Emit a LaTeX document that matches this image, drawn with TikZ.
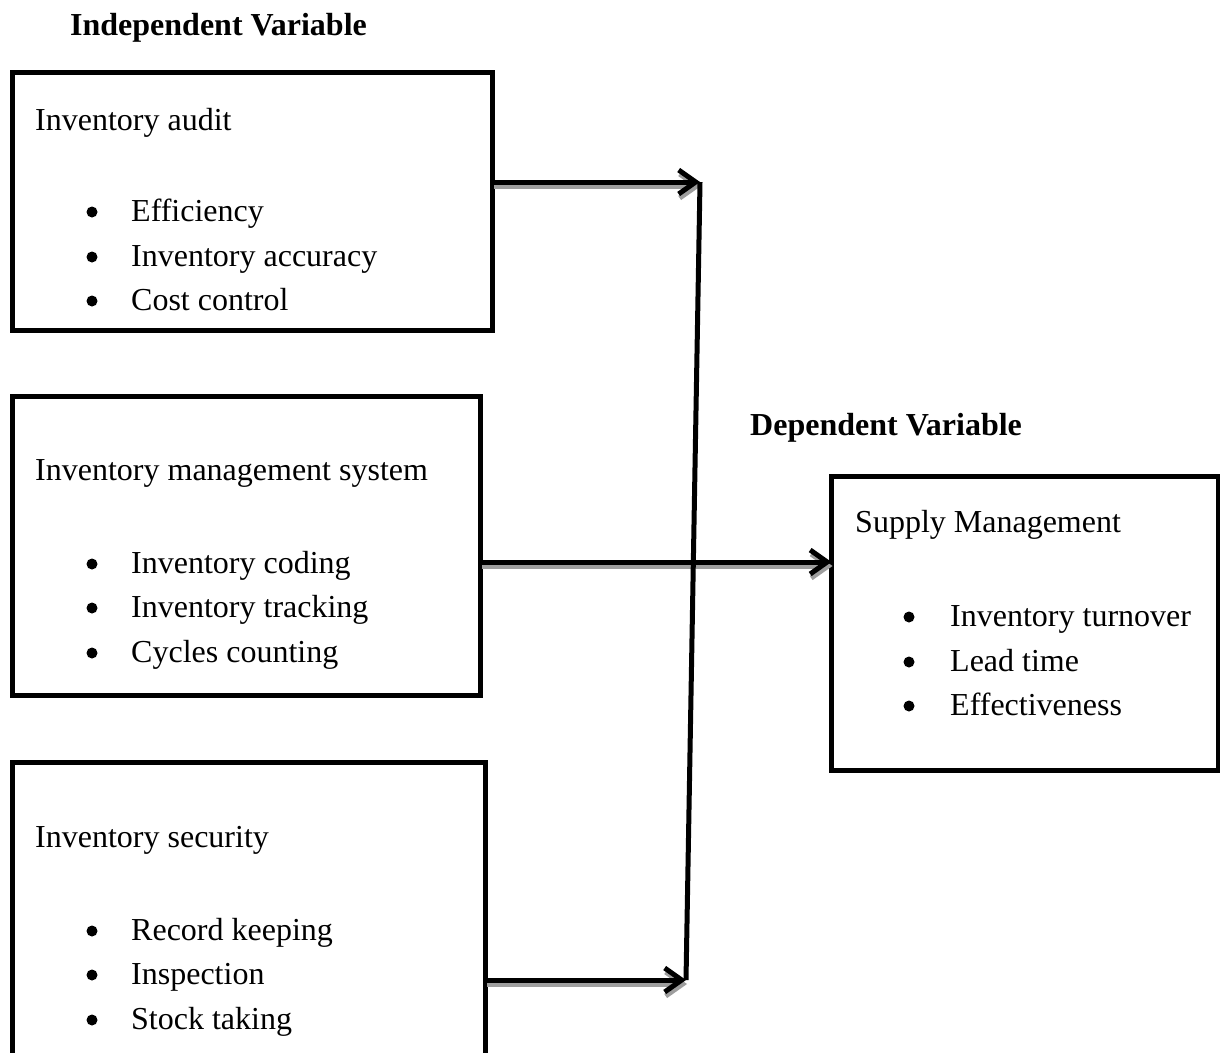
\documentclass[tikz,border=0pt]{standalone}
\usepackage{fontspec}
\setmainfont{Liberation Serif}
\usetikzlibrary{arrows.meta}
\tikzset{
  box/.style={draw=black, line width=5pt, minimum width=#1, inner sep=0pt, outer sep=0pt, anchor=north west},
  txt/.style={anchor=base west, inner sep=0pt, font=\fontsize{32pt}{38pt}\selectfont},
  bul/.style={circle, fill=black, inner sep=0pt, minimum size=11pt},
  head/.style={anchor=base west, inner sep=0pt, font=\fontsize{32pt}{38pt}\selectfont\bfseries},
  conn/.style={line width=5pt, -{Straight Barb[length=17pt,width=24pt,line width=5pt]}},
  shade/.style={line width=5pt, draw=black!38, -{Straight Barb[length=17pt,width=24pt,line width=5pt]}},
  link/.style={line width=5pt}
}
\begin{document}
\begin{tikzpicture}[x=1pt,y=-1pt]
\useasboundingbox (0,0) rectangle (1220,1052);
\clip (0,0) rectangle (1220,1052);
% headings
\node[head] (hi) at (70,35) {Independent Variable};
\node[head] (hd) at (750,435) {Dependent Variable};
% boxes
\node[box=480pt, minimum height=258pt] (b1) at (12.5,72.5) {};
\node[box=468pt, minimum height=299pt] (b2) at (12.5,396.5) {};
\node[box=473pt, minimum height=320pt] (b3) at (12.5,762.5) {};
\node[box=387pt, minimum height=294pt] (b4) at (831.5,476.5) {};
% box 1 text
\node[txt] (t1) at (35,130) {Inventory audit};
\node[bul] (p11) at (92,212) {}; \node[txt] (t11) at (131,221) {Efficiency};
\node[bul] (p12) at (92,257) {}; \node[txt] (t12) at (131,266) {Inventory accuracy};
\node[bul] (p13) at (92,301) {}; \node[txt] (t13) at (131,310) {Cost control};
% box 2 text
\node[txt] (t2) at (35,480) {Inventory management system};
\node[bul] (p21) at (92,564) {}; \node[txt] (t21) at (131,573) {Inventory coding};
\node[bul] (p22) at (92,608) {}; \node[txt] (t22) at (131,617) {Inventory tracking};
\node[bul] (p23) at (92,653) {}; \node[txt] (t23) at (131,662) {Cycles counting};
% box 3 text
\node[txt] (t3) at (35,847) {Inventory security};
\node[bul] (p31) at (92,931) {}; \node[txt] (t31) at (131,940) {Record keeping};
\node[bul] (p32) at (92,975) {}; \node[txt] (t32) at (131,984) {Inspection};
\node[bul] (p33) at (92,1020) {}; \node[txt] (t33) at (131,1029) {Stock taking};
% box 4 text
\node[txt] (t4) at (855,532) {Supply Management};
\node[bul] (p41) at (909,617) {}; \node[txt] (t41) at (950,626) {Inventory turnover};
\node[bul] (p42) at (909,662) {}; \node[txt] (t42) at (950,671) {Lead time};
\node[bul] (p43) at (909,706) {}; \node[txt] (t43) at (950,715) {Effectiveness};
% junctions
\coordinate (j1) at (700,182);
\coordinate (j2) at (686,980);
\coordinate (m) at (700,562);
% shadows
\draw[shade] ([shift={(1,4)}]b1.east |- j1) -- ([shift={(1,4)}]j1);
\draw[shade] ([shift={(1,4)}]b2.east |- m) -- ([shift={(1,4)}]b4.west |- m);
\draw[shade] ([shift={(1,4)}]b3.east |- j2) -- ([shift={(1,4)}]j2);
% connectors
\draw[link] (j1) -- (j2);
\draw[conn] (b1.east |- j1) -- (j1);
\draw[conn] (b2.east |- m) -- (b4.west |- m);
\draw[conn] (b3.east |- j2) -- (j2);
\end{tikzpicture}
\end{document}
